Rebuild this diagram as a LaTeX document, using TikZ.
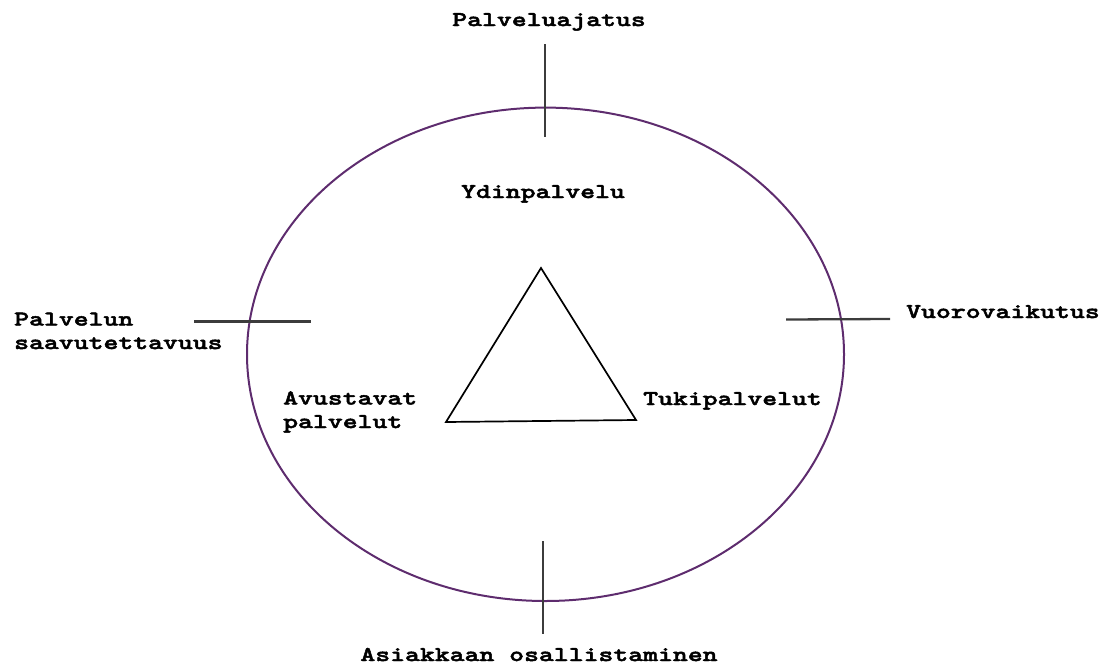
\documentclass[tikz,border=0pt]{standalone}
\usepackage{fontspec}
\newfontfamily\courfont{lmmonolt10-bold}[Extension=.otf,FakeStretch=1.35,FakeBold=2.2]
\definecolor{ringcol}{HTML}{5E2C6E}
\definecolor{tickcol}{HTML}{3C3C3C}
\begin{document}
\begin{tikzpicture}[x=1pt,y=-1pt,
  lbl/.style={inner sep=0pt,font=\courfont\fontsize{21}{23.5}\selectfont,align=left},
  ring/.style={draw=ringcol,line width=2pt},
  tick/.style={draw=tickcol,line width=2.3pt},
  tri/.style={draw=black,line width=1.7pt,line join=miter}]
\useasboundingbox (0,0) rectangle (1108,664);
% ring
\draw[ring] (545.5,354.3) ellipse [x radius=298.5, y radius=246.7];
% ticks
\coordinate (t1) at (545,44);  \coordinate (t2) at (545,137);
\coordinate (b1) at (543,541); \coordinate (b2) at (543,634);
\coordinate (l1) at (194,321.5); \coordinate (l2) at (311,321.5);
\coordinate (r1) at (786,319.5); \coordinate (r2) at (890,319);
\draw[tick] (t1) -- (t2);
\draw[tick] (b1) -- (b2);
\draw[tick] (l1) -- (l2);
\draw[tick] (r1) -- (r2);
% triangle
\coordinate (apex) at (541,268);
\coordinate (bl) at (446,422);
\coordinate (br) at (636,420);
\draw[tri] (apex) -- (bl) -- (br) -- cycle;
% labels
\node[lbl,anchor=base] (aj) at (549,26) {Palveluajatus};
\node[lbl,anchor=base] (yd) at (543,198) {Ydinpalvelu};
\node[lbl,anchor=base west] (sa) at (14,349) {Palvelun\\saavutettavuus};
\node[lbl,anchor=base west] (vu) at (906,318) {Vuorovaikutus};
\node[lbl,anchor=base west] (av) at (283,428) {Avustavat\\palvelut};
\node[lbl,anchor=base west] (tu) at (643,405) {Tukipalvelut};
\node[lbl,anchor=base] (as) at (539,661) {Asiakkaan osallistaminen};
\end{tikzpicture}
\end{document}
